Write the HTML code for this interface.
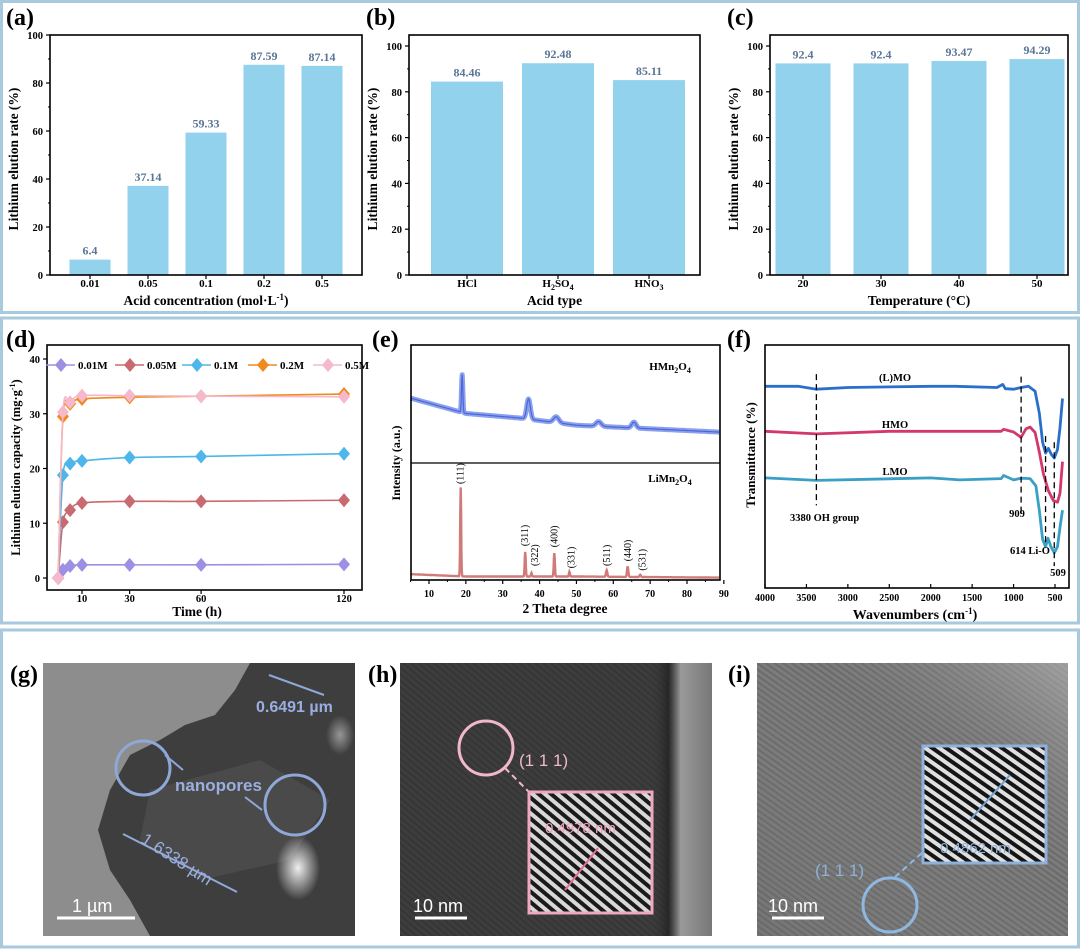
<!DOCTYPE html>
<html><head><meta charset="utf-8">
<style>
html,body{margin:0;padding:0;background:#fff}
svg{display:block;font-family:"Liberation Serif",serif}
.b{font-weight:bold}
</style></head>
<body>
<svg id="fig" width="1080" height="949" viewBox="0 0 1080 949" xmlns="http://www.w3.org/2000/svg">
<defs>
<pattern id="stripesH" width="8" height="8" patternUnits="userSpaceOnUse" patternTransform="rotate(-50)">
<rect width="8" height="8" fill="#d8d8d8"/><rect width="4" height="8" fill="#1a1a1a"/></pattern>
<pattern id="stripesI" width="8" height="8" patternUnits="userSpaceOnUse" patternTransform="rotate(-55)">
<rect width="8" height="8" fill="#e0e0e0"/><rect width="4" height="8" fill="#151515"/></pattern>
<pattern id="fringe" width="5" height="5" patternUnits="userSpaceOnUse" patternTransform="rotate(-55)">
<rect width="5" height="5" fill="#7c7c7c"/><rect width="2" height="5" fill="#6a6a6a"/></pattern>
<pattern id="fringeH" width="5" height="5" patternUnits="userSpaceOnUse" patternTransform="rotate(-50)">
<rect width="5" height="5" fill="#3d3d3d"/><rect width="2" height="5" fill="#353535"/></pattern>
<linearGradient id="hgrad" x1="0" x2="1" y1="0" y2="0">
<stop offset="0" stop-color="#3a3a3a" stop-opacity="0"/><stop offset="0.8" stop-color="#3a3a3a" stop-opacity="0"/>
<stop offset="0.86" stop-color="#222" stop-opacity="0.8"/><stop offset="0.9" stop-color="#9a9a9a"/><stop offset="1" stop-color="#777"/></linearGradient>
<linearGradient id="igrad" x1="0" x2="1" y1="1" y2="0">
<stop offset="0" stop-color="#666" stop-opacity="0.3"/><stop offset="0.6" stop-color="#888" stop-opacity="0"/><stop offset="1" stop-color="#bbb" stop-opacity="0.6"/></linearGradient>
<radialGradient id="gwhite"><stop offset="0" stop-color="#eee"/><stop offset="1" stop-color="#eee" stop-opacity="0"/></radialGradient>
</defs>
<g id="frames">
<rect x="1.5" y="1.5" width="1077" height="311" fill="none" stroke="#a9c9de" stroke-width="3"/>
<rect x="1.5" y="318" width="1077" height="305" fill="none" stroke="#a9c9de" stroke-width="3"/>
<rect x="1.5" y="630" width="1077" height="317" fill="none" stroke="#a9c9de" stroke-width="3"/>
</g>
<g id="root"></g>

<g>
<text x="10" y="682" font-size="24" class="b">(g)</text>
<rect x="43" y="663" width="312" height="273" fill="#8d8d8d"/>
<path d="M355,663 L250,663 L235,690 L215,715 L185,725 L160,740 L130,755 L110,790 L98,830 L110,870 L130,900 L150,936 L355,936 Z" fill="#3e3e3e"/>
<path d="M150,790 L260,760 L330,800 L290,860 L200,880 L140,840 Z" fill="#4a4a4a"/>
<ellipse cx="298" cy="868" rx="22" ry="32" fill="url(#gwhite)"/>
<ellipse cx="340" cy="735" rx="14" ry="20" fill="url(#gwhite)" opacity="0.5"/>
<line x1="269" y1="675" x2="324" y2="695" stroke="#8fa8d8" stroke-width="2"/>
<text x="256" y="712" font-family="Liberation Sans,sans-serif" font-size="16" font-weight="bold" fill="#9aaee0">0.6491 µm</text>
<circle cx="143" cy="768" r="27" fill="none" stroke="#8fa8d8" stroke-width="3"/>
<circle cx="295" cy="805" r="30" fill="none" stroke="#8fa8d8" stroke-width="3"/>
<line x1="165" y1="755" x2="183" y2="770" stroke="#8fa8d8" stroke-width="2"/>
<line x1="262" y1="810" x2="245" y2="797" stroke="#8fa8d8" stroke-width="2"/>
<text x="175" y="791" font-family="Liberation Sans,sans-serif" font-size="17" font-weight="bold" fill="#9aaee0">nanopores</text>
<line x1="123" y1="834" x2="237" y2="892" stroke="#8fa8d8" stroke-width="2"/>
<text transform="translate(140,842) rotate(33)" font-family="Liberation Sans,sans-serif" font-size="17" fill="#9aaee0">1.6338 µm</text>
<line x1="57" y1="918" x2="135" y2="918" stroke="#fff" stroke-width="3"/>
<text x="72" y="912" font-family="Liberation Sans,sans-serif" font-size="18" fill="#fff">1 µm</text>
</g>
<g>
<text x="368" y="682" font-size="24" class="b">(h)</text>
<rect x="400" y="663" width="312" height="273" fill="url(#fringeH)"/>
<rect x="400" y="663" width="312" height="273" fill="url(#hgrad)"/>
<circle cx="486" cy="748" r="27" fill="none" stroke="#f0b8c8" stroke-width="3"/>
<line x1="505" y1="768" x2="529" y2="792" stroke="#f0b8c8" stroke-width="2" stroke-dasharray="6,4"/>
<text x="519" y="766" font-family="Liberation Sans,sans-serif" font-size="17" fill="#f0b8c8">(1 1 1)</text>
<rect x="529" y="792" width="123" height="121" fill="url(#stripesH)" stroke="#f0a8c0" stroke-width="3"/>
<text x="545" y="833" font-family="Liberation Sans,sans-serif" font-size="15" fill="#f0a0b8">0.4978 nm</text>
<line x1="565" y1="890" x2="598" y2="848" stroke="#e0708f" stroke-width="2"/>
<line x1="415" y1="918" x2="467" y2="918" stroke="#fff" stroke-width="3"/>
<text x="413" y="912" font-family="Liberation Sans,sans-serif" font-size="18" fill="#fff">10 nm</text>
</g>
<g>
<text x="728" y="682" font-size="24" class="b">(i)</text>
<rect x="757" y="663" width="311" height="273" fill="url(#fringe)"/>
<rect x="757" y="663" width="311" height="273" fill="url(#igrad)"/>
<rect x="923" y="746" width="123" height="117" fill="url(#stripesI)" stroke="#8fb0d8" stroke-width="3"/>
<line x1="970" y1="820" x2="1010" y2="775" stroke="#6fa0d0" stroke-width="2"/>
<text x="940" y="853" font-family="Liberation Sans,sans-serif" font-size="15" fill="#8fb0d8">0.4862 nm</text>
<circle cx="890" cy="905" r="27" fill="none" stroke="#8fb8e0" stroke-width="3"/>
<line x1="895" y1="877" x2="923" y2="852" stroke="#8fb8e0" stroke-width="2" stroke-dasharray="6,4"/>
<text x="815" y="876" font-family="Liberation Sans,sans-serif" font-size="17" fill="#8fb0d8">(1 1 1)</text>
<line x1="772" y1="918" x2="824" y2="918" stroke="#fff" stroke-width="3"/>
<text x="768" y="912" font-family="Liberation Sans,sans-serif" font-size="18" fill="#fff">10 nm</text>
</g>
</svg>
<script>
// ---------- data ----------
const aCategories = ["0.01","0.05","0.1","0.2","0.5"];
const aValues = [6.4, 37.14, 59.33, 87.59, 87.14];
const bCategories = ["HCl","H2SO4","HNO3"];
const bValues = [84.46, 92.48, 85.11];
const cCategories = ["20","30","40","50"];
const cValues = [92.4, 92.4, 93.47, 94.29];
const barTicks = [0,20,40,60,80,100];

const dTimes = [0, 2, 5, 10, 30, 60, 120];
const dSeriesNames = ["0.01M","0.05M","0.1M","0.2M","0.5M"];
const d001 = [0, 1.5, 2.2, 2.4, 2.4, 2.4, 2.5];
const d005 = [0, 10.2, 12.4, 13.7, 14.0, 14.0, 14.2];
const d01 = [0, 18.8, 20.9, 21.4, 22.0, 22.2, 22.7];
const d02 = [0, 29.5, 31.8, 32.7, 33.0, 33.2, 33.6];
const d05 = [0, 30.3, 32.1, 33.3, 33.3, 33.2, 33.1];
const dXTicks = [10, 30, 60, 120];
const dYTicks = [0, 10, 20, 30, 40];

const eXTicks = [10,20,30,40,50,60,70,80,90];
const eHBaseline = [[5,55],[20,42],[35,38],[50,32],[70,29],[90,26]];
const eHPeaks = [[19.0,32,0.25],[37.0,17,0.7],[44.5,5,1.0],[56,4,1],[65.6,5,0.8]];
const eLBaseline = [[5,5],[20,3],[50,3],[90,2]];
const eLPeaks = [[18.6,76,0.18],[36.1,21,0.2],[37.8,3,0.2],[44.0,20,0.2],[48.1,4,0.2],[58.2,5.5,0.25],[63.9,9,0.25],[67.3,2,0.25]];
const eLabels = ["(111)","(311)","(322)","(400)","(331)","(511)","(440)","(531)"];
const eLabelPos = [18.6,36.0,38.7,44.0,48.6,58.3,64.0,67.9];
const eLabelBase = [82,29,12,28,10,12,16,8];

const fXTicks = [4000,3500,3000,2500,2000,1500,1000,500];
const fLMOtop = [[4000,83],[3600,83],[3380,81.8],[3000,82.5],[2000,83],[1700,83],[1200,82.5],[1130,83.8],[1100,82],[1000,81.8],[909,82.5],[820,83],[740,81],[690,72],[650,60],[614,55.5],[580,57.5],[545,55],[509,53.5],[470,57],[440,66],[410,78]];
const fHMO = [[4000,64.5],[3380,63.4],[2500,64.5],[1700,64.5],[1150,64.5],[1120,65.3],[1000,64.2],[909,62],[850,65.5],[800,66.2],[740,64],[690,56],[640,47],[580,40],[520,36],[470,35.3],[440,39],[410,52]];
const fLMO = [[4000,45.3],[3380,44.3],[2000,45.3],[1650,44.5],[1150,45],[1120,46.3],[1000,44.5],[909,45.2],[800,45],[730,42],[690,32],[650,20],[614,17],[585,20.5],[550,17],[509,14.5],[470,17],[440,25],[410,32]];
const fDashX = [3380, 909, 614, 509];
const fDashTop = [88, 87, 62.5, 60];
const fDashBot = [34, 31, 17.5, 9];

// ---------- helpers ----------
const NS = "http://www.w3.org/2000/svg";
const root = document.getElementById("root");
function mk(tag, attrs, parent){
  const e = document.createElementNS(NS, tag);
  for (const k in attrs) e.setAttribute(k, attrs[k]);
  (parent||root).appendChild(e);
  return e;
}
function txt(s, x, y, size, anchor, parent, extra){
  const t = mk("text", Object.assign({x:x, y:y, "font-size":size, "text-anchor":anchor||"start", "font-weight":"bold"}, extra||{}), parent);
  t.textContent = s;
  return t;
}
function lin(d0,d1,r0,r1){ return v => r0 + (v-d0)/(d1-d0)*(r1-r0); }
function interp(pts, x){
  for (let i=0;i<pts.length-1;i++){
    const a=pts[i], b=pts[i+1];
    if ((x>=a[0]&&x<=b[0])||(x<=a[0]&&x>=b[0])) return a[1]+(x-a[0])/(b[0]-a[0])*(b[1]-a[1]);
  }
  return pts[pts.length-1][1];
}
function chem(s){ return s.replace(/(\d)/g, '<tspan font-size="8" dy="3">$1</tspan><tspan dy="-3">\u200b</tspan>'); }

// ---------- bar panels ----------
function barPanel(cfg){
  const g = mk("g", {});
  
  
  const y = lin(0,100,cfg.y0,cfg.y100);
  const lab = txt(cfg.label, cfg.lx, 25, 24, "start", g);
  
  
  cfg.values.forEach((v,i)=>{
    const cx = cfg.c0 + i*cfg.step;
    const r = mk("rect", {x:cx-cfg.bw/2, y:y(v), width:cfg.bw, height:y(0)-y(v), fill:"#93d2ec"}, g);
    
    
    const t = txt(String(v), cx, y(v)-5, 12, "middle", g, {fill:"#5a7596"});
    
    
    const tl = mk("text", {x:cx, y:287, "font-size":11, "text-anchor":"middle", "font-weight":"bold"}, g);
    
    
    if (cfg.sub) tl.innerHTML = chem(cfg.cats[i]); else tl.textContent = cfg.cats[i];
    mk("line",{x1:cx,y1:y(0),x2:cx,y2:y(0)+4,stroke:"#000","stroke-width":1.2},g);
  });
  const box = mk("rect", {x:cfg.x0, y:cfg.top, width:cfg.x1-cfg.x0, height:y(0)-cfg.top, fill:"none", stroke:"#000", "stroke-width":1.6}, g);
  
  
  barTicks.forEach(t=>{
    mk("line",{x1:cfg.x0,y1:y(t),x2:cfg.x0-4,y2:y(t),stroke:"#000","stroke-width":1.2},g);
    if (t<100) mk("line",{x1:cfg.x0,y1:y(t+10),x2:cfg.x0-2,y2:y(t+10),stroke:"#000","stroke-width":1},g);
    const tt = txt(String(t), cfg.x0-7, y(t)+4, 10.5, "end", g);
    
    
  });
  const yt = txt("Lithium elution rate (%)", 0, 0, 13.5, "middle", g, {transform:`translate(${cfg.x0-32},${(cfg.top+y(0))/2+4}) rotate(-90)`});
  
  
  const xt = mk("text",{x:(cfg.x0+cfg.x1)/2, y:305, "font-size":13.5, "text-anchor":"middle","font-weight":"bold"},g);
  
  
  xt.innerHTML = cfg.xtitle;
}
barPanel({name:"panel-a", label:"(a)", lx:6, cats:aCategories, values:aValues, x0:50, x1:362, top:35, y0:275, y100:35, c0:90, step:58, bw:41, xtitle:'Acid concentration (mol·L<tspan font-size="9" dy="-5">-1</tspan><tspan dy="5">)</tspan>'});
barPanel({name:"panel-b", label:"(b)", lx:366, cats:bCategories, values:bValues, x0:409, x1:700, top:35, y0:275, y100:46, c0:467, step:91, bw:72, sub:true, xtitle:'Acid type'});
barPanel({name:"panel-c", label:"(c)", lx:727, cats:cCategories, values:cValues, x0:770, x1:1068, top:35, y0:275, y100:46, c0:803, step:78, bw:55, xtitle:'Temperature (°C)'});

// ---------- panel d ----------
(function(){
  const g = mk("g",{});
  
  
  const x = lin(10,120,82,344), y = lin(0,40,578,359);
  const L = 47, R = 362, T = 345, B = 590;
  const lab = txt("(d)", 6, 347, 24, "start", g);
  
  
  const box = mk("rect",{x:L,y:T,width:R-L,height:B-T,fill:"none",stroke:"#000","stroke-width":1.6},g);
  
  
  dYTicks.forEach(t=>{
    mk("line",{x1:L,y1:y(t),x2:L-4,y2:y(t),stroke:"#000","stroke-width":1.2},g);
    const tt = txt(String(t), L-7, y(t)+4, 10.5, "end", g);
    
    
  });
  dXTicks.forEach(t=>{
    mk("line",{x1:x(t),y1:B,x2:x(t),y2:B+4,stroke:"#000","stroke-width":1.2},g);
    const tt = txt(String(t), x(t), 602, 10.5, "middle", g);
    
    
  });
  const yt = mk("text",{transform:`translate(20,${(T+B)/2}) rotate(-90)`,"font-size":12.5,"text-anchor":"middle","font-weight":"bold"},g);
  
  
  yt.innerHTML = 'Lithium elution capacity (mg·g<tspan font-size="8" dy="-5">-1</tspan><tspan dy="5">)</tspan>';
  const xt = txt("Time (h)", 197, 616, 13.5, "middle", g);
  
  
  const series = [d001,d005,d01,d02,d05];
  const colors = ["#9d90e4","#c96a70","#4db6ea","#f08a1e","#f5b8cc"];
  const legX = [61,130,197,263,328];
  series.forEach((s,si)=>{
    const sg = mk("g",{},g);
    
    
    const pts = s.map((v,i)=>[x(dTimes[i]), y(v)]);
    let d = "M"+pts[0][0]+","+pts[0][1];
    for (let i=0;i<pts.length-1;i++){
      const p0=pts[Math.max(0,i-1)],p1=pts[i],p2=pts[i+1],p3=pts[Math.min(pts.length-1,i+2)];
      const c1x=p1[0]+(p2[0]-p0[0])/6, c1y=p1[1]+(p2[1]-p0[1])/6;
      const c2x=p2[0]-(p3[0]-p1[0])/6, c2y=p2[1]-(p3[1]-p1[1])/6;
      d += ` C${c1x},${c1y} ${c2x},${c2y} ${p2[0]},${p2[1]}`;
    }
    mk("path",{d:d,fill:"none",stroke:colors[si],"stroke-width":1.6},sg);
    pts.forEach(p=>{
      const m = mk("path",{d:`M${p[0]},${p[1]-7} L${p[0]+6},${p[1]} L${p[0]},${p[1]+7} L${p[0]-6},${p[1]} Z`,fill:colors[si]},sg);
      
      
    });
    const lg = mk("g",{},g);
    
    
    mk("line",{x1:legX[si]-15,y1:365,x2:legX[si]+14,y2:365,stroke:colors[si],"stroke-width":1.6},lg);
    mk("path",{d:`M${legX[si]},358 L${legX[si]+6},365 L${legX[si]},372 L${legX[si]-6},365 Z`,fill:colors[si]},lg);
    txt(dSeriesNames[si], legX[si]+17, 369, 11, "start", lg);
  });
})();

// ---------- panel e ----------
(function(){
  const g = mk("g",{});
  
  
  const L=411, R=720, T=345, B=580, M=463;
  const x = lin(10,80,429,687);
  const yu = lin(0,100,M,T), yl = lin(0,100,B,M);
  const lab = txt("(e)", 372, 347, 24, "start", g);
  
  
  function spec(base, peaks){
    const arr=[];
    for (let t=5; t<=88.7; t+=0.1){
      let v = interp(base,t);
      peaks.forEach(p=>{ v += p[1]*Math.exp(-Math.pow((t-p[0])/p[2],2)); });
      arr.push([t,v]);
    }
    return arr;
  }
  const hu = spec(eHBaseline, eHPeaks);
  const hl = spec(eLBaseline, eLPeaks);
  const pu = mk("path",{d:"M"+hu.map(p=>x(p[0]).toFixed(1)+","+yu(p[1]).toFixed(1)).join(" L"),fill:"none",stroke:"#6f8ae8","stroke-width":5,"stroke-opacity":0.8,"stroke-linejoin":"round"},g);
  
  
  mk("path",{d:"M"+hu.map(p=>x(p[0]).toFixed(1)+","+yu(p[1]).toFixed(1)).join(" L"),fill:"none",stroke:"#4a66d8","stroke-width":1.2},g);
  const pl = mk("path",{d:"M"+hl.map(p=>x(p[0]).toFixed(1)+","+yl(p[1]).toFixed(1)).join(" L"),fill:"none",stroke:"#d07a7a","stroke-width":2.4},g);
  
  
  eLabels.forEach((s,i)=>{
    const t = txt(s, 0, 0, 10, "start", g, {transform:`translate(${x(eLabelPos[i])+3},${yl(eLabelBase[i])}) rotate(-90)`,"font-weight":"normal"});
    
    
  });
  mk("rect",{x:L,y:T,width:R-L,height:B-T,fill:"none",stroke:"#000","stroke-width":1.6},g);
  mk("line",{x1:L,y1:M,x2:R,y2:M,stroke:"#000","stroke-width":1.3},g);
  eXTicks.forEach(t=>{
    mk("line",{x1:x(t),y1:B,x2:x(t),y2:B+4,stroke:"#000","stroke-width":1.2},g);
    mk("line",{x1:x(t-5),y1:B,x2:x(t-5),y2:B+2,stroke:"#000","stroke-width":1},g);
    const tt = txt(String(t), x(t), 597, 10, "middle", g);
    
    
  });
  const xt = txt("2 Theta degree", 565, 613, 13.5, "middle", g);
  
  
  const yt = txt("Intensity (a.u.)", 0, 0, 12, "middle", g, {transform:`translate(400,${M}) rotate(-90)`});
  
  
  const l1 = mk("text",{x:670,y:370,"font-size":11,"font-weight":"bold","text-anchor":"middle"},g);
  
  
  l1.innerHTML='HMn<tspan font-size="8" dy="3">2</tspan><tspan dy="-3">O</tspan><tspan font-size="8" dy="3">4</tspan>';
  const l2 = mk("text",{x:670,y:482,"font-size":11,"font-weight":"bold","text-anchor":"middle"},g);
  
  
  l2.innerHTML='LiMn<tspan font-size="8" dy="3">2</tspan><tspan dy="-3">O</tspan><tspan font-size="8" dy="3">4</tspan>';
})();

// ---------- panel f ----------
(function(){
  const g = mk("g",{});
  
  
  const L=765, R=1069, T=345, B=588;
  const x = lin(4000,500,765,1055), y = lin(0,100,B,T);
  const lab = txt("(f)", 727, 347, 24, "start", g);
  
  
  const specs = [fLMOtop,fHMO,fLMO], cols=["#2a6fcb","#d3386c","#3a9fc4"], names=["spectrum-lmo-leached","spectrum-hmo","spectrum-lmo"];
  specs.forEach((s,i)=>{
    const p = mk("path",{d:"M"+s.map(q=>x(q[0]).toFixed(1)+","+y(q[1]).toFixed(1)).join(" L"),fill:"none",stroke:cols[i],"stroke-width":2.8,"stroke-linejoin":"round"},g);
    
    
  });
  fDashX.forEach((w,i)=>{
    const l = mk("line",{x1:x(w),y1:y(fDashTop[i]),x2:x(w),y2:y(fDashBot[i]),stroke:"#000","stroke-width":1.3,"stroke-dasharray":"6,4"},g);
    
    
  });
  mk("rect",{x:L,y:T,width:R-L,height:B-T,fill:"none",stroke:"#000","stroke-width":1.6},g);
  fXTicks.forEach(t=>{
    mk("line",{x1:x(t),y1:B,x2:x(t),y2:B-4,stroke:"#000","stroke-width":1.2},g);
    const tt = txt(String(t), x(t), 601, 10, "middle", g);
    
    
  });
  const xt = mk("text",{x:915,y:619,"font-size":14,"text-anchor":"middle","font-weight":"bold"},g);
  
  
  xt.innerHTML='Wavenumbers (cm<tspan font-size="9" dy="-5">-1</tspan><tspan dy="5">)</tspan>';
  const yt = txt("Transmittance (%)", 0, 0, 13, "middle", g, {transform:`translate(755,455) rotate(-90)`});
  
  
  [["(L)MO",895,381],["HMO",895,428],["LMO",895,475],["3380 OH group",790,521],["909",1017,517],["614 Li-O",1030,554],["509",1058,576]].forEach(a=>{
    const t = txt(a[0], a[1], a[2], 10.5, a[0]==="3380 OH group"?"start":"middle", g);
    
    
  });
})();
</script>
</body></html>
